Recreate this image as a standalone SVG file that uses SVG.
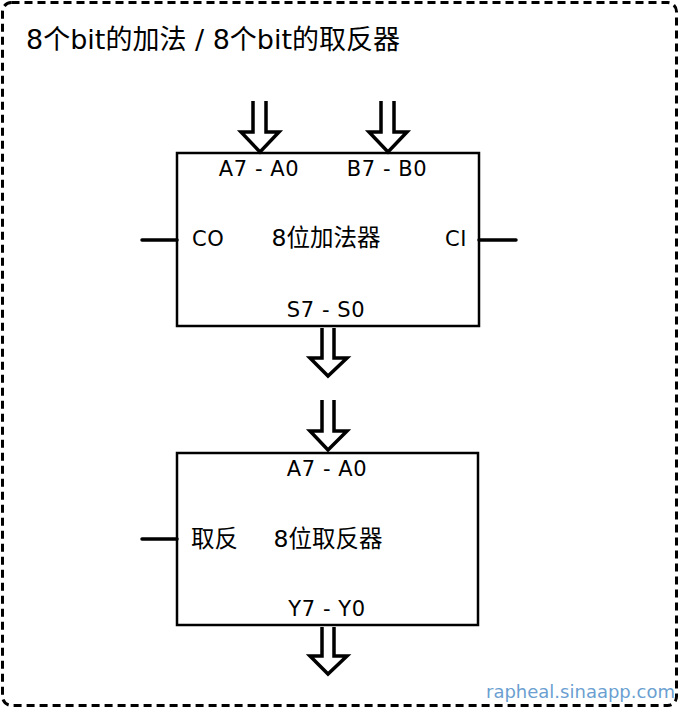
<svg xmlns="http://www.w3.org/2000/svg" width="679" height="708" viewBox="0 0 679 708">
<style>
.frame{fill:none;stroke:#000;stroke-width:3;stroke-dasharray:8 5}
.box{fill:#fff;stroke:#000;stroke-width:2.5}
.wire{fill:none;stroke:#000;stroke-width:3.5;stroke-linecap:round}
.bus{fill:#fff;stroke:#000;stroke-width:3.5;stroke-linejoin:miter}
.t{font-family:"DejaVu Sans","Noto Sans CJK SC",sans-serif;font-size:21px;letter-spacing:0.6px;fill:#000}
.k{font-family:"DejaVu Sans","Noto Sans CJK SC",sans-serif;font-size:23.5px;fill:#000}
.c{text-anchor:middle}
.title{font-family:"DejaVu Sans","Noto Sans CJK SC",sans-serif;font-size:27px;fill:#000}
.wm{font-family:"DejaVu Sans",sans-serif;font-size:18px;fill:#6b9fd1}
</style>
<rect class="frame" x="2.5" y="2.5" width="674" height="703" rx="9"/>
<text class="title" x="26" y="49">8个bit的加法 / 8个bit的取反器</text>
<text class="wm" x="486" y="698">rapheal.sinaapp.com</text>

<g id="adder">
<rect class="box" x="177" y="153" width="302" height="173"/>
<text class="t c" x="259" y="176">A7 - A0</text>
<text class="t c" x="387" y="176">B7 - B0</text>
<text class="t" x="192" y="246">CO</text>
<text class="k c" x="326" y="246">8位加法器</text>
<text class="t" x="445" y="246">CI</text>
<text class="t c" x="326" y="317">S7 - S0</text>
</g>

<g id="inverter">
<rect class="box" x="177" y="453" width="301" height="172"/>
<text class="t c" x="327" y="476">A7 - A0</text>
<text class="k" x="191" y="547">取反</text>
<text class="k c" x="328" y="547">8位取反器</text>
<text class="t c" x="327" y="616">Y7 - Y0</text>
</g>

<g id="connectors">
<path class="bus" d="M253,101 V132 H241 L260,152 L279,132 H266 V101"/>
<path class="bus" d="M381,101 V132 H369 L388,152 L407,132 H394 V101"/>
<path class="bus" d="M322,328 V358 H310 L328,376 L347,358 H334 V328"/>
<path class="bus" d="M322,400 V431 H310 L328,450 L347,431 H334 V400"/>
<path class="bus" d="M322,627 V656 H310 L328,674 L347,656 H334 V627"/>
<line class="wire" x1="142" y1="240" x2="177" y2="240"/>
<line class="wire" x1="479" y1="240" x2="516" y2="240"/>
<line class="wire" x1="142" y1="539" x2="177" y2="539"/>
</g>
</svg>
